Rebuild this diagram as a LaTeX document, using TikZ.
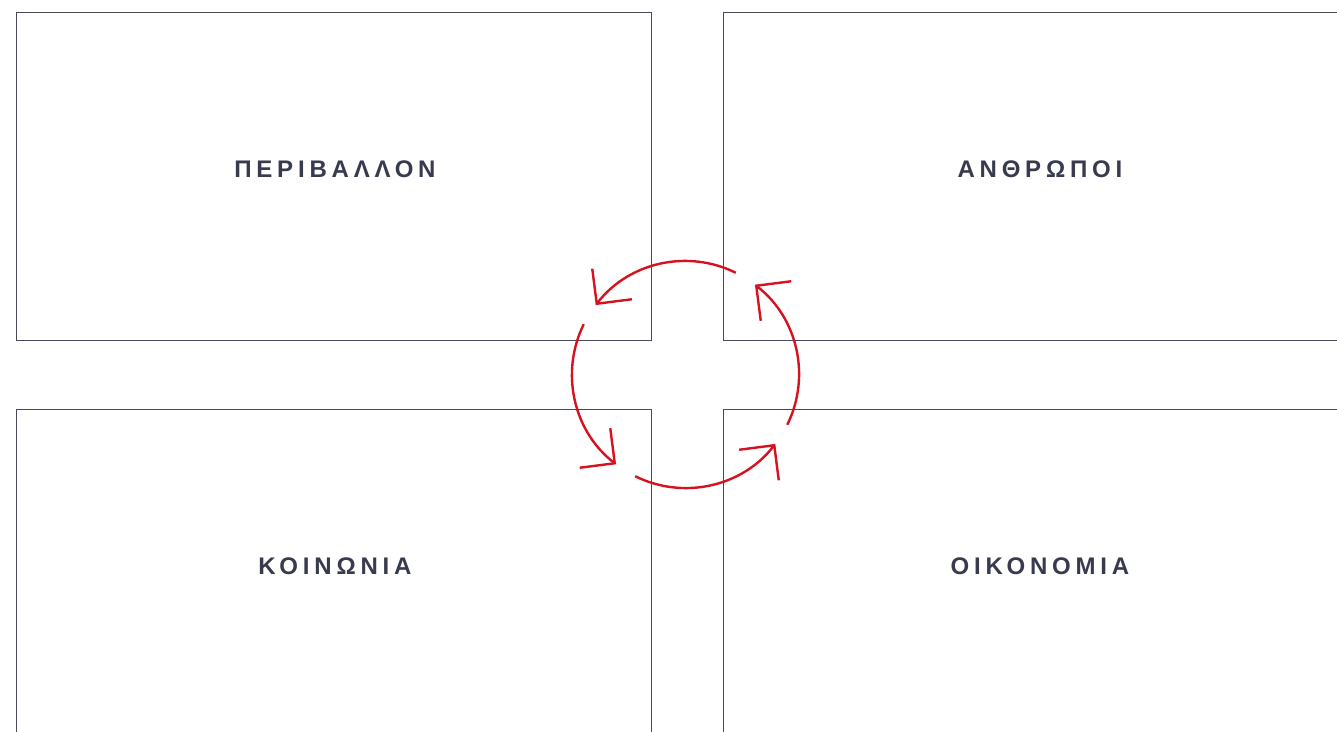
\documentclass[tikz,border=0pt]{standalone}
\usepackage{fontspec}
\setmainfont{Liberation Sans}
\usetikzlibrary{arrows.meta}
\definecolor{boxgray}{RGB}{72,74,92}
\definecolor{titlegray}{RGB}{56,58,78}
\definecolor{cyclered}{RGB}{214,18,30}
\begin{document}
\begin{tikzpicture}[x=1pt,y=1pt,
    box/.style={draw=boxgray, line width=0.9pt, minimum width=635pt, minimum height=328pt, inner sep=0pt, anchor=north west},
    title/.style={font=\bfseries\fontsize{24}{28}\selectfont\addfontfeature{LetterSpace=20}, text=titlegray},
    cyc/.style={draw=cyclered, line width=2.4pt, -{Straight Barb[length=25pt,width=50pt]}}]
                \useasboundingbox (0,0) rectangle (1337,731);
                \clip (0,0) rectangle (1337,731);

                % Pola
                \node[box] (env) at (16,719) {};
                \node[box] (ppl) at (723,719) {};
                \node[box] (soc) at (16,322) {};
                \node[box] (eco) at (723,322) {};

                % Napisy
                \node[title] (envlbl) at ([xshift=1pt,yshift=7pt]env.center) {ΠΕΡΙΒΑΛΛΟΝ};
                \node[title] (ppllbl) at ([xshift=-1pt,yshift=7pt]ppl.center) {ΑΝΘΡΩΠΟΙ};
                \node[title] (soclbl) at ([xshift=1pt,yshift=7pt]soc.center) {ΚΟΙΝΩΝΙΑ};
                \node[title] (ecolbl) at ([xshift=-1pt,yshift=7pt]eco.center) {ΟΙΚΟΝΟΜΙΑ};

                % Obieg
                \coordinate (mid) at (685.5,356.5);
                \draw[cyc] ([shift={(63.7:113.5)}]mid) arc[start angle=63.7, end angle=142.3, radius=113.5];
                \draw[cyc] ([shift={(153.7:113.5)}]mid) arc[start angle=153.7, end angle=232.3, radius=113.5];
                \draw[cyc] ([shift={(243.7:113.5)}]mid) arc[start angle=243.7, end angle=322.3, radius=113.5];
                \draw[cyc] ([shift={(333.7:113.5)}]mid) arc[start angle=333.7, end angle=412.3, radius=113.5];

\end{tikzpicture}
\end{document}
